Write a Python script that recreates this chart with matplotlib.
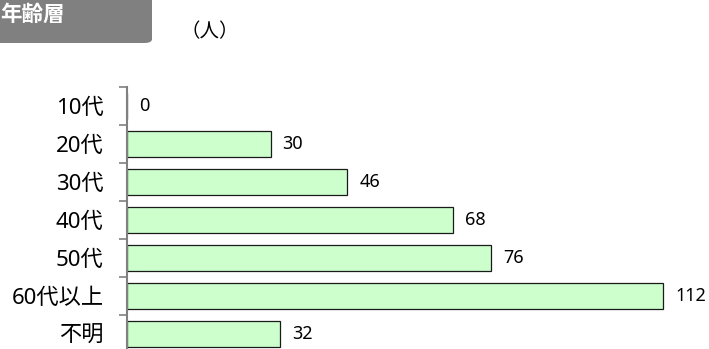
import matplotlib.pyplot as plt
from matplotlib.patches import FancyBboxPatch

plt.rcParams['font.family'] = ['Noto Sans', 'Noto Sans CJK JP', 'DejaVu Sans']

categories = ["10代", "20代", "30代", "40代", "50代", "60代以上", "不明"]
counts = [0, 30, 46, 68, 76, 112, 32]

W, H = 709, 349
fig = plt.figure(figsize=(W / 100, H / 100), dpi=100)

# axes in pixel terms: left spine at x=127, top at y=87, 38px per category
left, top, band = 127, 87, 38
height = band * len(categories)
ax = fig.add_axes([left / W, (H - top - height) / H, (W - left) / W, height / H])

y = list(range(len(categories)))
ax.barh(y, counts, height=0.66, color="#CCFFCC", edgecolor="#1a1a1a", linewidth=0.9)
for yi, v in zip(y, counts):
    ax.text(v + 2.5, yi, str(v), va="center", ha="left", fontsize=13)

ax.set_ylim(len(categories) - 0.5, -0.5)
ax.set_xlim(0, (W - left) / 4.79)

ax.set_yticks([i - 0.5 for i in range(len(categories) + 1)])
ax.set_yticklabels([])
ax.set_yticks(y, minor=True)
ax.set_yticklabels(categories, minor=True, fontsize=16)
ax.tick_params(axis="y", which="major", length=6, width=1.2, color="#808080")
ax.tick_params(axis="y", which="minor", length=0, pad=17)
ax.set_xticks([])
for s in ["top", "right", "bottom"]:
    ax.spines[s].set_visible(False)
ax.spines["left"].set_color("#808080")
ax.spines["left"].set_linewidth(1.5)

# header box
box = FancyBboxPatch((-15 / W, 1 - 43 / H), 167 / W, 63 / H,
                     boxstyle="round,pad=0,rounding_size=0.011",
                     transform=fig.transFigure, facecolor="#808080",
                     edgecolor="none")
fig.patches.append(box)
fig.text(0, 1 - 15 / H, "年齢層", color="white", fontsize=15.5,
         fontweight="bold", va="center", ha="left")
fig.text(180 / W, 1 - 32 / H, "（人）", fontsize=14, va="center", ha="left")

fig.savefig("out.png", dpi=100)
